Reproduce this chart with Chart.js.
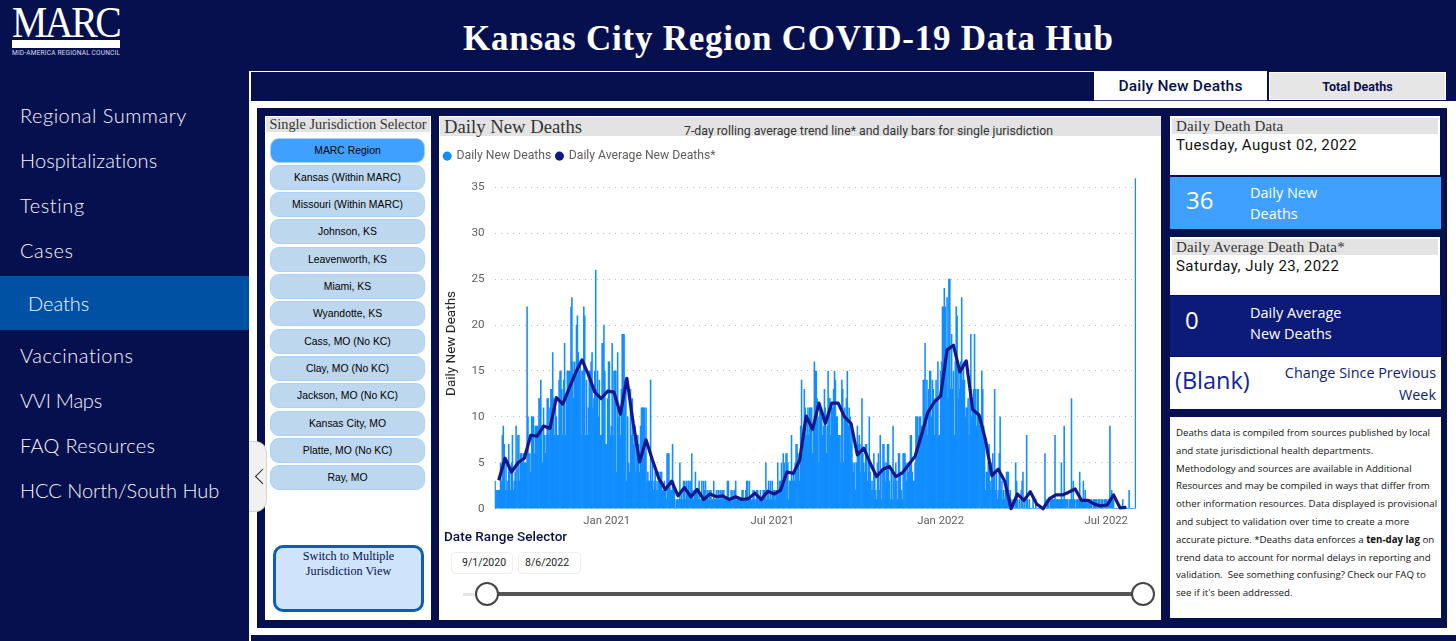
<!DOCTYPE html>
<html>
<head>
<meta charset="utf-8">
<title>Kansas City Region COVID-19 Data Hub</title>
<script src="https://cdn.jsdelivr.net/npm/chart.js@4"></script>
<style>
html, body { margin: 0; padding: 0; width: 1456px; height: 641px; overflow: hidden; background: #07104f; font-family: Lato, sans-serif; }
.box { position: absolute; box-sizing: border-box; }
.txt { position: absolute; white-space: nowrap; line-height: 1; }
.serif { font-family: "Liberation Serif", serif; }
.din { font-family: Roboto, sans-serif; }
.nav { position: absolute; left: 20px; color: #f6f7fb; font-size: 20px; font-weight: 300; white-space: nowrap; line-height: 24px; }
.jur { position: absolute; left: 270px; width: 155px; height: 25px; box-sizing: border-box; border-radius: 9px; border: 1px solid #a9d2fb; background: #bdd7ee; color: #000; font: 10.4px/23px "Liberation Sans", sans-serif; text-align: center; }
.band { position: absolute; background: #e3e3e3; color: #333; font-family: "Liberation Serif", serif; white-space: nowrap; }
.date { position: absolute; top: 552px; height: 22px; box-sizing: border-box; background: #fff; border: 1px solid #eee; border-radius: 4px; color: #222; font: 10.5px/20px Roboto, sans-serif; padding-left: 10px; }
</style>
</head>
<body>
<!-- logo -->
<div class="txt serif" style="left:12px;top:1px;font-size:44px;letter-spacing:-2.6px;color:#fff;transform:scaleX(0.9);transform-origin:left;">MARC</div>
<div class="box" style="left:12px;top:40px;width:108px;height:8px;background:#fff;"></div>
<div class="txt din" style="left:12px;top:50px;font-size:6.6px;color:#d8dbe8;letter-spacing:0.15px;">MID-AMERICA REGIONAL COUNCIL</div>

<div class="txt serif" style="left:463px;top:21px;font-size:35px;font-weight:bold;color:#fff;letter-spacing:0.76px;">Kansas City Region COVID-19 Data Hub</div>

<!-- sidebar -->
<div class="nav" style="top:103px;letter-spacing:0.5px;">Regional Summary</div>
<div class="nav" style="top:148px;letter-spacing:0.1px;">Hospitalizations</div>
<div class="nav" style="top:193px;letter-spacing:0.6px;">Testing</div>
<div class="nav" style="top:238px;letter-spacing:0.6px;">Cases</div>
<div class="box" style="left:0;top:276px;width:249px;height:54px;background:#0050a4;"></div>
<div class="nav" style="top:291px;left:28px;letter-spacing:-0.05px;">Deaths</div>
<div class="nav" style="top:343px;letter-spacing:0.55px;">Vaccinations</div>
<div class="nav" style="top:388px;letter-spacing:-0.25px;">VVI Maps</div>
<div class="nav" style="top:433px;letter-spacing:0.3px;">FAQ Resources</div>
<div class="nav" style="top:478px;letter-spacing:-0.03px;">HCC North/South Hub</div>

<!-- frame -->
<div class="box" style="left:249px;top:71px;width:2px;height:570px;background:#fff;"></div>
<div class="box" style="left:250px;top:71px;width:844px;height:1px;background:#fff;"></div>
<div class="box" style="left:251px;top:101px;width:1205px;height:534px;background:#fff;"></div>
<div class="box" style="left:257px;top:108px;width:1190px;height:520px;background:#07104f;"></div>

<!-- tabs -->
<div class="box din" style="left:1094px;top:71px;width:173px;height:30px;background:#fff;border-bottom:1px solid #3d4a85;color:#07104f;font-size:15.5px;font-weight:500;letter-spacing:0.2px;text-align:center;line-height:31px;">Daily New Deaths</div>
<div class="box din" style="left:1269px;top:72px;width:177px;height:28px;background:#e6e6e6;border:1px solid #fff;color:#07104f;font-size:12.5px;font-weight:700;text-align:center;line-height:27px;">Total Deaths</div>

<!-- jurisdiction selector -->
<div class="box" style="left:265px;top:116px;width:166px;height:504px;background:#fff;"></div>
<div class="band" style="left:266px;top:117px;width:164px;height:15px;font-size:14.3px;line-height:15px;text-align:center;">Single Jurisdiction Selector</div>
<div id="jurList"></div>
<div class="box serif" style="left:273px;top:545px;width:151px;height:67px;background:#cfe4fb;border:3px solid #0a5fb5;border-radius:10px;color:#07104f;font-size:12.2px;line-height:15px;text-align:center;padding-top:1px;">Switch to Multiple<br>Jurisdiction View</div>

<!-- collapse handle -->
<div class="box" style="left:249px;top:441px;width:18px;height:71px;background:#f1f1f1;border:1px solid #d5d5d5;border-left:none;border-radius:0 12px 12px 0;"></div>
<div class="box" style="left:257.3px;top:471.3px;width:11.3px;height:11.3px;border-left:1.3px solid #222;border-bottom:1.3px solid #222;transform:rotate(45deg);"></div>

<!-- chart panel -->
<div class="box" style="left:439px;top:116px;width:722px;height:504px;background:#fff;"></div>
<div class="band" style="left:440px;top:117px;width:721px;height:19px;font-size:18.7px;line-height:20px;padding-left:4px;box-sizing:border-box;">Daily New Deaths</div>
<div class="txt din" style="left:684px;top:125px;font-size:12.33px;color:#333;">7-day rolling average trend line* and daily bars for single jurisdiction</div>
<canvas id="deathsChart" width="720" height="385" style="position:absolute;left:439px;top:145px;"></canvas>
<div class="txt din" style="left:444px;top:530px;font-size:13.5px;font-weight:500;color:#07104f;letter-spacing:0.03px;">Date Range Selector</div>
<div class="date" style="left:451px;width:62px;">9/1/2020</div>
<div class="date" style="left:518px;width:63px;padding-left:6px;">8/6/2022</div>
<div class="box" style="left:463px;top:593px;width:24px;height:3px;background:#e6e6e6;"></div>
<div class="box" style="left:487px;top:592px;width:656px;height:3.5px;background:#555;"></div>
<div class="box" style="left:475px;top:582px;width:24px;height:24px;border-radius:50%;background:#fff;border:2px solid #444;"></div>
<div class="box" style="left:1131px;top:582px;width:24px;height:24px;border-radius:50%;background:#fff;border:2px solid #444;"></div>

<!-- right column -->
<div class="box" style="left:1170px;top:116px;width:270px;height:59px;background:#fff;"></div>
<div class="band" style="left:1172px;top:118px;width:266px;height:16px;font-size:15px;line-height:17px;padding-left:4px;box-sizing:border-box;letter-spacing:0.15px;">Daily Death Data</div>
<div class="txt din" style="left:1176px;top:138px;font-size:15px;color:#111;letter-spacing:0.45px;">Tuesday, August 02, 2022</div>
<div class="box" style="left:1170px;top:177px;width:271px;height:52px;background:#3fa0ff;"></div>
<div class="txt" style="left:1186px;top:188px;font-size:24px;color:#fff;font-family:'Open Sans',sans-serif;">36</div>
<div class="txt" style="left:1250px;top:186px;font-size:14.5px;color:#fff;font-family:'Open Sans',sans-serif;">Daily New</div>
<div class="txt" style="left:1250px;top:207px;font-size:14.5px;color:#fff;font-family:'Open Sans',sans-serif;">Deaths</div>

<div class="box" style="left:1170px;top:237px;width:270px;height:58px;background:#fff;"></div>
<div class="band" style="left:1172px;top:239px;width:266px;height:16px;font-size:15px;line-height:17px;padding-left:4px;box-sizing:border-box;letter-spacing:0.15px;">Daily Average Death Data*</div>
<div class="txt din" style="left:1176px;top:259px;font-size:15px;color:#111;letter-spacing:0.45px;">Saturday, July 23, 2022</div>
<div class="box" style="left:1170px;top:296px;width:271px;height:60px;background:#0d1b78;"></div>
<div class="txt" style="left:1185px;top:308px;font-size:24px;color:#fff;font-family:'Open Sans',sans-serif;">0</div>
<div class="txt" style="left:1250px;top:306px;font-size:14.5px;color:#fff;font-family:'Open Sans',sans-serif;">Daily Average</div>
<div class="txt" style="left:1250px;top:327px;font-size:14.5px;color:#fff;font-family:'Open Sans',sans-serif;">New Deaths</div>
<div class="box" style="left:1170px;top:357px;width:271px;height:52px;background:#fff;"></div>
<div class="txt" style="left:1175px;top:369px;font-size:23.5px;color:#12239e;font-family:'Open Sans',sans-serif;">(Blank)</div>
<div class="txt" style="right:20px;top:366px;font-size:14.4px;color:#0d1b78;font-family:'Open Sans',sans-serif;">Change Since Previous</div>
<div class="txt" style="right:20px;top:388px;font-size:14.4px;color:#0d1b78;font-family:'Open Sans',sans-serif;">Week</div>

<div class="box" style="left:1170px;top:417px;width:271px;height:201px;background:#fff;padding:7px 0 0 6px;color:#111;font:9.7px/17.8px 'Open Sans',sans-serif;white-space:nowrap;">
Deaths data is compiled from sources published by local<br>
and state jurisdictional health departments.<br>
Methodology and sources are available in Additional<br>
Resources and may be compiled in ways that differ from<br>
other information resources. Data displayed is provisional<br>
and subject to validation over time to create a more<br>
accurate picture. *Deaths data enforces a <b>ten-day lag</b> on<br>
trend data to account for normal delays in reporting and<br>
validation.&nbsp; See something confusing? Check our FAQ to<br>
see if it's been addressed.
</div>

<script>
const jurisdictions = ["MARC Region", "Kansas (Within MARC)", "Missouri (Within MARC)", "Johnson, KS", "Leavenworth, KS", "Miami, KS", "Wyandotte, KS", "Cass, MO (No KC)", "Clay, MO (No KC)", "Jackson, MO (No KC)", "Kansas City, MO", "Platte, MO (No KC)", "Ray, MO"];

// One row per week, first day is 2020-09-01
const dailyDeaths = [
    3,2,2,2,2,2,5,
    3,8,9,7,2,5,2,
    3,7,4,2,5,8,2,
    3,4,9,3,8,8,3,
    6,6,5,6,5,5,5,
    22,10,6,6,4,10,10,
    10,6,9,9,9,9,12,
    12,14,9,5,11,8,6,
    8,12,12,8,11,13,13,
    17,12,8,11,10,8,8,
    14,15,15,13,8,14,18,
    8,12,15,15,15,15,22,
    23,16,12,16,15,20,21,
    17,15,16,8,15,15,22,
    21,8,14,8,11,15,15,
    16,17,11,12,15,26,13,
    15,10,14,8,8,18,18,
    20,15,7,7,12,16,16,
    8,9,18,8,15,15,15,
    4,17,10,11,8,13,19,
    19,19,14,13,3,10,5,
    4,13,8,12,7,9,9,
    4,8,8,7,4,9,11,
    11,11,11,6,11,3,4,
    3,3,14,3,5,2,3,
    4,2,3,2,4,3,4,
    4,2,2,3,2,1,6,
    6,6,3,2,2,7,3,
    2,0,1,1,1,1,5,
    1,2,1,3,3,1,3,
    2,3,3,1,3,6,2,
    1,2,4,2,2,1,3,
    1,1,3,1,3,2,3,
    1,2,1,2,2,2,1,
    1,3,1,1,2,1,2,
    1,2,1,2,2,2,1,
    1,1,3,3,1,1,2,
    1,2,1,2,3,1,1,
    1,1,1,1,2,2,1,
    1,2,3,3,1,3,1,
    1,1,2,2,1,1,2,
    2,1,1,2,1,1,2,
    2,2,5,1,2,3,1,
    3,1,3,2,2,1,2,
    2,5,2,3,3,5,3,
    6,5,3,6,6,5,1,
    3,3,8,3,4,3,5,
    7,7,6,5,3,9,14,
    6,9,13,11,8,10,11,
    8,11,11,11,6,9,16,
    15,15,12,10,5,11,11,
    10,8,9,13,11,6,9,
    15,12,12,8,11,11,13,
    15,14,10,10,8,8,8,
    5,14,13,5,11,10,12,
    15,9,11,10,7,9,5,
    4,5,2,5,9,7,8,
    4,7,12,6,5,4,7,
    7,3,5,10,4,2,3,
    2,6,4,2,1,5,6,
    2,8,1,4,7,7,5,
    3,5,7,7,3,1,4,
    1,9,3,4,5,3,1,
    6,6,4,2,1,6,6,
    6,5,3,5,4,5,8,
    8,4,3,3,5,10,10,
    10,8,10,10,9,8,14,
    14,18,10,14,8,13,15,
    15,10,14,13,8,12,14,
    12,16,8,8,15,16,22,
    22,24,22,16,23,12,25,
    25,13,19,13,15,8,16,
    22,21,12,15,13,16,23,
    14,16,14,10,11,11,12,
    8,14,19,10,12,13,19,
    13,9,13,13,10,9,10,
    15,13,9,8,2,4,4,
    5,7,3,2,5,6,4,
    13,2,4,1,2,6,10,
    2,3,1,2,1,3,4,
    4,4,0,2,0,1,0,
    1,0,5,3,1,0,1,
    0,2,3,4,0,1,0,
    8,1,0,1,0,0,0,
    1,0,0,1,0,0,0,
    0,0,0,0,0,0,6,
    1,0,1,1,0,1,1,
    1,1,1,8,1,1,1,
    1,1,1,5,1,1,9,
    1,1,1,1,0,1,1,
    12,1,3,1,0,1,1,
    1,1,4,1,1,1,3,
    1,2,1,1,1,1,1,
    1,1,0,1,1,1,1,
    0,1,1,1,0,1,1,
    0,1,1,1,0,1,1,
    9,1,2,1,1,0,0,
    0,0,0,0,0,0,0,
    1,0,0,0,0,0,0,
    2,0,0,0,0,0,0,
    36
];

// 7-day average, one point each Saturday from 2020-09-05 to 2022-07-23
const weeklyAverage = [
    3.1,5.5,4.0,5.0,5.5,8.0,7.9,9.0,8.75,12.1,
    11.4,13.1,14.8,16.2,14.6,12.7,12.0,12.8,12.7,10.3,
    14.2,9.3,5.1,7.5,5.3,3.3,2.1,3.0,1.4,2.3,
    1.3,2.1,1.0,1.6,1.3,1.4,1.0,1.3,1.0,1.1,
    1.7,1.0,1.9,1.6,2.0,4.0,3.85,5.3,10.1,8.65,
    11.5,9.3,11.5,11.5,10.0,9.3,5.85,6.6,4.95,3.5,
    4.3,4.6,3.5,3.9,4.8,5.7,8.0,10.5,11.6,12.3,
    17.3,17.8,14.9,16.1,10.8,10.2,7.5,3.6,4.3,3.0,
    0,1.6,0.9,1.85,0.5,0,1.1,1.5,1.5,1.8,
    2.15,0.9,0.9,0.5,0.3,0.4,1.5,0.1,0.15
];

const tickDates = ["2021-01-01", "2021-07-01", "2022-01-01", "2022-07-01"];
const tickNames = ["Jan 2021", "Jul 2021", "Jan 2022", "Jul 2022"];
const yTicksStep = 5;

function buildDayLabels(count) {
    const labels = [];
    for (let i = 0; i < count; i++) {
        const d = new Date(Date.UTC(2020, 8, 1 + i));
        labels.push(d.toISOString().slice(0, 10));
    }
    return labels;
}

const dayLabels = buildDayLabels(dailyDeaths.length);
// first Saturday is the 5th day of the range
const averagePoints = weeklyAverage.map((v, i) => ({ x: dayLabels[4 + i * 7], y: v }));

const jurList = document.getElementById("jurList");
jurisdictions.forEach((name, i) => {
    const el = document.createElement("div");
    el.className = "jur";
    el.textContent = name;
    el.style.top = (137.5 + i * 27.3) + "px";
    if (i === 0) {
        el.style.background = "#3fa0ff";
    }
    jurList.appendChild(el);
});

// legend box keeps a fixed height so the plot starts lower than the labels need
const legendHeight = {
    id: "legendHeight",
    beforeInit(chart) {
        const fit = chart.legend.fit;
        chart.legend.fit = function () {
            fit.bind(chart.legend)();
            this.height = 33.2;
        };
    }
};

new Chart(document.getElementById("deathsChart"), {
    type: "bar",
    data: {
        labels: dayLabels,
        datasets: [
            {
                label: "Daily New Deaths",
                data: dailyDeaths,
                backgroundColor: "#118dff",
                borderWidth: 0,
                barPercentage: 1,
                categoryPercentage: 1,
                pointStyle: "circle",
                order: 2
            },
            {
                type: "line",
                label: "Daily Average New Deaths*",
                data: averagePoints,
                borderColor: "#12178a",
                backgroundColor: "#12178a",
                borderWidth: 3.2,
                borderJoinStyle: "round",
                pointRadius: 0,
                pointStyle: "circle",
                tension: 0,
                clip: false,
                order: 1
            }
        ]
    },
    plugins: [legendHeight],
    options: {
        responsive: false,
        animation: false,
        layout: { padding: { top: 0, right: 23, left: 0, bottom: 0 } },
        plugins: {
            tooltip: { enabled: false },
            legend: {
                position: "top",
                align: "start",
                labels: {
                    usePointStyle: true,
                    boxWidth: 6.4,
                    boxHeight: 6.4,
                    padding: 5,
                    color: "#605e5c",
                    font: { family: "Roboto", size: 12.2 },
                    sort: (a, b) => a.datasetIndex - b.datasetIndex,
                    generateLabels: (chart) => Chart.defaults.plugins.legend.labels.generateLabels(chart).map((item) => {
                        item.lineWidth = 0;
                        return item;
                    })
                }
            }
        },
        scales: {
            x: {
                offset: true,
                grid: { display: false, drawTicks: false },
                border: { display: false },
                afterFit: (scale) => { scale.height = 21.3; },
                ticks: {
                    autoSkip: false,
                    maxRotation: 0,
                    padding: 6,
                    color: "#605e5c",
                    font: { family: "Roboto", size: 11.3 },
                    callback: function (value) {
                        const at = tickDates.indexOf(this.getLabelForValue(value));
                        return at >= 0 ? tickNames[at] : null;
                    }
                }
            },
            y: {
                min: 0,
                max: 36,
                afterFit: (scale) => { scale.width = 55.6; },
                border: { display: false, dash: [1, 5] },
                grid: {
                    color: "#bdbdbd",
                    lineWidth: 1,
                    drawTicks: false
                },
                title: {
                    display: true,
                    text: "Daily New Deaths",
                    color: "#252423",
                    padding: { top: 5, bottom: 0 },
                    font: { family: "Roboto", size: 13.5 }
                },
                ticks: {
                    stepSize: yTicksStep,
                    includeBounds: false,
                    padding: 10,
                    color: "#605e5c",
                    font: { family: "Roboto", size: 11.7 }
                }
            }
        }
    }
});
</script>
</body>
</html>
